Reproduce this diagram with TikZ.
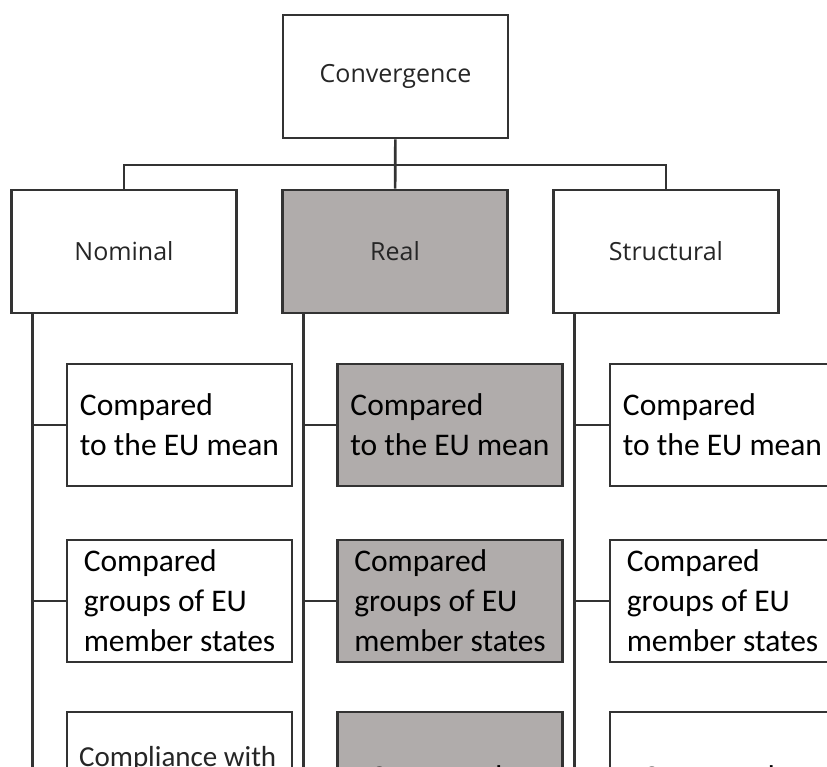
\documentclass[tikz,border=0pt]{standalone}
\usepackage{fontspec}
\setmainfont{Carlito}
\newfontfamily\headfont{Open Sans}
\usetikzlibrary{positioning,calc}
\definecolor{linegray}{RGB}{51,51,51}
\definecolor{realgray}{RGB}{176,172,171}
\definecolor{headtext}{RGB}{38,38,38}
\tikzset{
  head/.style={draw=linegray,line width=1.3pt,fill=white,minimum width=112.5pt,minimum height=61.5pt,inner sep=0pt,font=\headfont\fontsize{12.5}{15}\selectfont,text=headtext},
  item/.style={draw=linegray,line width=1.3pt,fill=white,minimum width=112.5pt,minimum height=61pt,inner xsep=4pt,inner ysep=0pt,align=left,font=\fontsize{15.75}{20}\selectfont},
  tail/.style={item,text width=80.5pt,inner xsep=16pt,text height=18pt,text depth=4pt},
  lowtext/.style={inner sep=0pt,font=\fontsize{14.5}{18}\selectfont,text=headtext},
  rail/.style={draw=linegray,line width=1.3pt},
  realfill/.style={fill=realgray}
}
\begin{document}
\begin{tikzpicture}[x=0.5pt,y=-0.5pt]
\clip (0,0) rectangle (827,767);
\fill[white] (0,0) rectangle (827,767);
% top level
\node[head] (conv) at (395.5,76.5) {Convergence};
\node[head] (nom) at (124,251.5) {Nominal};
\node[head,realfill] (real) at (395,251.5) {Real};
\node[head] (struc) at (666,251.5) {Structural};
\coordinate (bus) at (395,165);
\draw[rail] (conv) -- (real);
\draw[rail] (nom.north) |- (bus) -| (struc.north);
% second level
\node[item] (n1) at (179.5,425) {Compared\\to the EU mean};
\node[item] (n2) at (179.5,601) {Compared\\groups of EU\\member states};
\node[item] (n3) at (179.5,773) {};
\node[lowtext,anchor=north west] (n3t) at ($(n3.north west)+(13,35)$) {Compliance with};
\node[item,realfill] (r1) at (450,425) {Compared\\to the EU mean};
\node[item,realfill] (r2) at (450,601) {Compared\\groups of EU\\member states};
\node[tail,realfill] (r3) at (450,773) {Compared};
\node[item] (s1) at (722.5,425) {Compared\\to the EU mean};
\node[item] (s2) at (722.5,601) {Compared\\groups of EU\\member states};
\node[tail] (s3) at (722.5,773) {Compared};
% rails
\foreach \h/\c in {nom/n,real/r,struc/s} {
  \coordinate (rail\c) at ($(\h.south west)+(22,0)$);
  \draw[rail] (rail\c) -- ++(0,480);
  \foreach \k in {1,2,3}
    \draw[rail] (\c\k.west -| rail\c) -- (\c\k.west);
}
\end{tikzpicture}
\end{document}
